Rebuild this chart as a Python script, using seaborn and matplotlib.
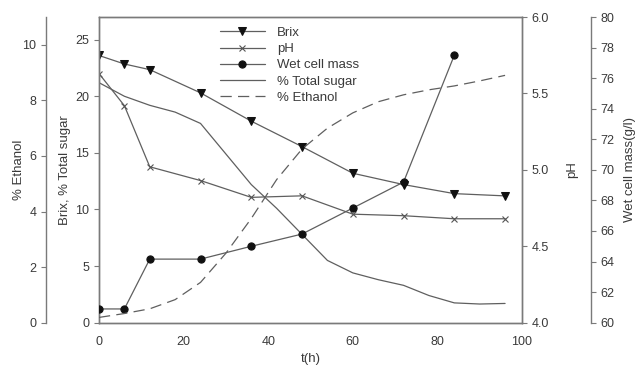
import matplotlib
matplotlib.use("Agg")
import matplotlib.pyplot as plt
import seaborn as sns
import pandas as pd

# ---- data ----
t_main = [0, 6, 12, 24, 36, 48, 60, 72, 84, 96]
brix = [23.6, 22.85, 22.35, 20.3, 17.8, 15.55, 13.2, 12.2, 11.4, 11.2]
ph = [5.63, 5.42, 5.02, 4.93, 4.82, 4.83, 4.71, 4.70, 4.68, 4.68]

t_wcm = [0, 6, 12, 24, 36, 48, 60, 72, 84]
wet_cell_mass = [60.9, 60.9, 64.16, 64.16, 65.0, 65.8, 67.5, 69.2, 77.5]

t_curve = [0, 6, 12, 18, 24, 30, 36, 42, 48, 54, 60, 66, 72, 78, 84, 90, 96]
total_sugar = [21.2, 20.0, 19.2, 18.6, 17.6, 14.9, 12.2, 10.1, 7.8, 5.5, 4.4, 3.8, 3.3,
               2.4, 1.75, 1.65, 1.7]
ethanol = [0.19, 0.33, 0.5, 0.83, 1.45, 2.5, 3.75, 5.15, 6.25, 7.0, 7.55, 7.95, 8.2,
           8.38, 8.52, 8.7, 8.9]

labels = ["Brix", "pH", "Wet cell mass", "% Total sugar", "% Ethanol"]
x_ticks = [0, 20, 40, 60, 80, 100]

df_main = pd.DataFrame({"t": t_main, "brix": brix, "ph": ph})
df_wcm = pd.DataFrame({"t": t_wcm, "wcm": wet_cell_mass})
df_curve = pd.DataFrame({"t": t_curve, "sugar": total_sugar, "eth": ethanol})

sns.set_style("white")
plt.rcParams["font.family"] = ["Liberation Sans", "DejaVu Sans"]
plt.rcParams["font.size"] = 9

LINE = "#5f5f5f"
TXT = "#3a3a3a"
SPN = "#7a7a7a"

fig = plt.figure(figsize=(6.4, 3.72), dpi=100)
W, H = 640, 372
ax = fig.add_axes([99 / W, 1 - 322.7 / H, (522 - 99) / W, (322.7 - 17) / H])
ax_ph = ax.twinx()
ax_wcm = ax.twinx()
ax_eth = ax.twinx()

lw = 0.9
sns.lineplot(data=df_curve, x="t", y="sugar", ax=ax, color=LINE, lw=lw, label=labels[3])
sns.lineplot(data=df_main, x="t", y="brix", ax=ax, color=LINE, lw=lw, marker="v",
             markersize=5.2, markerfacecolor="#111111", markeredgecolor="#111111",
             label=labels[0])
sns.lineplot(data=df_main, x="t", y="ph", ax=ax_ph, color=LINE, lw=lw, marker="x",
             markersize=5, markeredgecolor="#555555", markeredgewidth=0.8,
             label=labels[1])
sns.lineplot(data=df_wcm, x="t", y="wcm", ax=ax_wcm, color=LINE, lw=lw, marker="o",
             markersize=5.2, markerfacecolor="#111111", markeredgecolor="#111111",
             label=labels[2])
sns.lineplot(data=df_curve, x="t", y="eth", ax=ax_eth, color=LINE, lw=lw,
             dashes=(9, 5), label=labels[4])

for a in (ax, ax_ph, ax_wcm, ax_eth):
    lg = a.get_legend()
    if lg is not None:
        lg.remove()
    a.set_xlim(0, 100)
    a.tick_params(colors=TXT, labelsize=9, length=3.5, width=0.8, color=SPN)
    for s in a.spines.values():
        s.set_color(SPN)
        s.set_linewidth(1.0)

# main axis
ax.set_ylim(0, 27)
ax.set_yticks([0, 5, 10, 15, 20, 25])
ax.set_xticks(x_ticks)
ax.set_xlabel("t(h)", color=TXT, fontsize=9.5, labelpad=4)
ax.set_ylabel("Brix, % Total sugar", color=TXT, fontsize=9.5, labelpad=3)
ax.tick_params(axis="x", pad=6)

# pH
ax_ph.set_ylim(4, 6)
ax_ph.set_yticks([4.0, 4.5, 5.0, 5.5, 6.0])
ax_ph.set_yticklabels(["4.0", "4.5", "5.0", "5.5", "6.0"])
ax_ph.set_ylabel("pH", color=TXT, fontsize=9.5, labelpad=12)

# wet cell mass
ax_wcm.set_ylim(60, 80)
ax_wcm.set_yticks(list(range(60, 81, 2)))
ax_wcm.spines["right"].set_position(("outward", 49.7))
for k in ("left", "top", "bottom"):
    ax_wcm.spines[k].set_visible(False)
ax_wcm.set_ylabel("Wet cell mass(g/l)", color=TXT, fontsize=9.5, labelpad=7)

# ethanol
ax_eth.set_ylim(0, 11)
ax_eth.set_yticks([0, 2, 4, 6, 8, 10])
ax_eth.yaxis.set_ticks_position("left")
ax_eth.yaxis.set_label_position("left")
ax_eth.spines["left"].set_position(("outward", 38.2))
for k in ("right", "top", "bottom"):
    ax_eth.spines[k].set_visible(False)
ax_eth.set_ylabel("% Ethanol", color=TXT, fontsize=9.5, labelpad=-2)

# legend
handles = []
for a in (ax, ax_ph, ax_wcm, ax_eth):
    handles += a.get_lines()
hmap = {h.get_label(): h for h in handles}
fig.legend([hmap[l] for l in labels], labels, loc="upper left",
           bbox_to_anchor=(0.286, 0.968), bbox_transform=ax.transAxes,
           frameon=False, fontsize=9.5, handlelength=3.4, handletextpad=0.9,
           labelspacing=0.3, borderpad=0, borderaxespad=0, labelcolor=TXT)

fig.savefig("out.png", dpi=100)
